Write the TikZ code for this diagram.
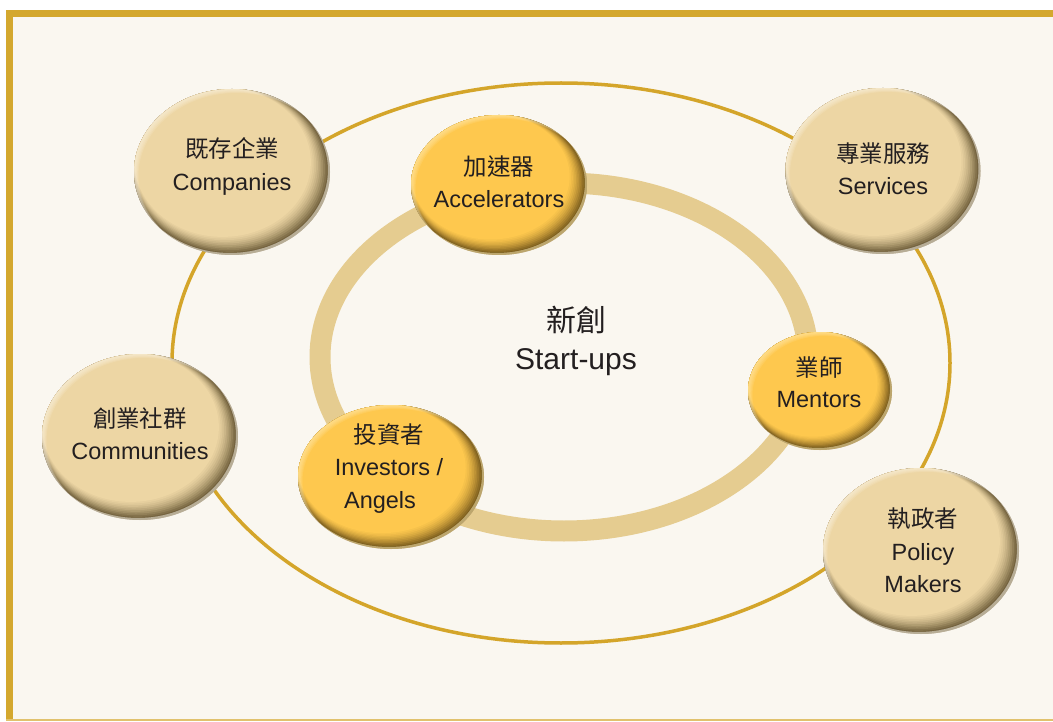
\documentclass[tikz,border=0pt]{standalone}
\usepackage{fontspec}
\setmainfont{Liberation Sans}
\newfontfamily\cjk{Noto Sans CJK TC}
\usetikzlibrary{shapes.geometric}
\definecolor{bg}{HTML}{FAF7F0}
\definecolor{gold}{HTML}{D4A82E}
\definecolor{goldline}{HTML}{D4A52A}
\definecolor{ring}{HTML}{E5CC90}
\definecolor{ink}{HTML}{231F20}
\definecolor{beigeBase}{HTML}{EDD6A4}
\definecolor{beigeLight}{HTML}{FFFAF0}
\definecolor{beigeDark}{HTML}{74633F}
\definecolor{yelBase}{HTML}{FEC84E}
\definecolor{yelLight}{HTML}{FFF0C0}
\definecolor{yelDark}{HTML}{7E5F1E}
\tikzset{
  bub/.style n args={5}{ellipse, inner sep=0pt, minimum width=#1, minimum height=#2,
    path picture={
      \fill[#4] ([shift={(-3pt,-3pt)}]path picture bounding box.south west)
        rectangle ([shift={(3pt,3pt)}]path picture bounding box.north east);
      \foreach \f/\c in {0.99/12,0.98/25,0.97/38,0.96/50,0.95/61,0.94/71,0.93/80,0.92/88,0.91/94,0.90/100}{
        \fill[#3!\c!#4] ([xshift={-0.8*(1-\f)*#1/2-1.5}, yshift={(1-\f)*#2/2+1.5}]path picture bounding box.center)
          ellipse [x radius=\f*#1/2, y radius=\f*#2/2];
      }
      \foreach \s in {1.2,2.4,3.6,4.8,6}{
        \fill[#5, opacity=.13, even odd rule]
          ([xshift=-2pt,yshift=2pt]path picture bounding box.center) ellipse [x radius=#1/2, y radius=#2/2]
          ([xshift=.75*\s, yshift=-.65*\s]path picture bounding box.center) ellipse [x radius=#1/2, y radius=#2/2];
      }
    }},
  lbl/.style={align=center, text=ink, font=\fontsize{23.5}{32.5}\selectfont, inner sep=0pt},
}
\begin{document}
\begin{tikzpicture}[x=1pt,y=-1pt]
\useasboundingbox (0,0) rectangle (1053,722);
\fill[white] (0,0) rectangle (1053,722);
\fill[bg] (6,10) rectangle (1053,720);
\fill[gold] (6,10) rectangle (1053,17);
\fill[gold] (6,10) rectangle (13,720);
\fill[gold!70!white] (6,719) rectangle (1053,720.6);
% rings
\coordinate (oc) at (561,363);
\coordinate (ic) at (564,357);
\draw[goldline, line width=3.5pt] (oc) ellipse [x radius=389, y radius=280];
\draw[ring, line width=21pt] (ic) ellipse [x radius=244, y radius=174];
% bubbles
\node[bub={196}{166}{beigeBase}{beigeDark}{beigeLight}] (comp) at (232,172) {};
\node[bub={195}{166}{beigeBase}{beigeDark}{beigeLight}] (serv) at (883,171) {};
\node[bub={196}{166}{beigeBase}{beigeDark}{beigeLight}] (commu) at (140,437) {};
\node[bub={196}{166}{beigeBase}{beigeDark}{beigeLight}] (policy) at (921,551) {};
\node[bub={176}{140}{yelBase}{yelDark}{yelLight}] (accel) at (499,185) {};
\node[bub={144}{118}{yelBase}{yelDark}{yelLight}] (mentor) at (820,391) {};
\node[bub={186}{144}{yelBase}{yelDark}{yelLight}] (invest) at (391,477) {};
% labels
\node[lbl] (tcomp) at (232,166.5) {{\cjk 既存企業}\\Companies};
\node[lbl] (tserv) at (883,168.5) {{\cjk 專業服務}\\Services};
\node[lbl] (tcommu) at (140,433.5) {{\cjk 創業社群}\\Communities};
\node[lbl] (tpolicy) at (923,550.5) {{\cjk 執政者}\\Policy\\Makers};
\node[lbl] (taccel) at (499,181.5) {{\cjk 加速器}\\Accelerators};
\node[lbl, font=\fontsize{23.5}{30.5}\selectfont] (tmentor) at (819,382) {{\cjk 業師}\\Mentors};
\node[lbl] (tinvest) at (389,468.5) {{\cjk 投資者}\\Investors /\\Angels\hspace*{18pt}};
\node[align=center, text=ink, inner sep=0pt, font=\fontsize{30}{38}\selectfont] (start) at (576,341) {{\cjk 新創}\\Start-ups};
\end{tikzpicture}
\end{document}
